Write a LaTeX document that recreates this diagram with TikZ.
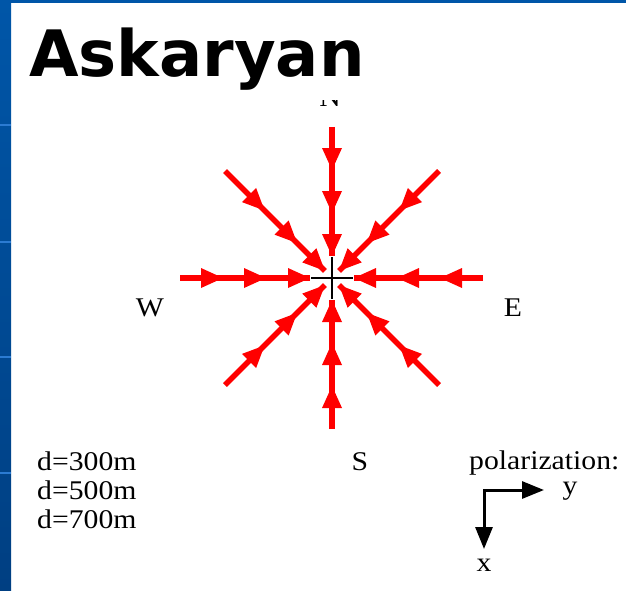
\documentclass[tikz,border=0pt]{standalone}
\usepackage{fontspec}
\setmainfont{Liberation Serif}
\newfontfamily\titlefont{DejaVu Sans}
\usetikzlibrary{arrows.meta,decorations.markings,calc}

\definecolor{slideblue}{HTML}{0056A8}
\definecolor{slidebluedark}{HTML}{003F82}
\definecolor{slidebluelight}{HTML}{2B7BD2}
\definecolor{arrowred}{HTML}{FF0000}

\begin{document}
\begin{tikzpicture}[x=1pt,y=-1pt,
  lbl/.style={font=\fontsize{27}{29}\selectfont, inner sep=0pt, xscale=1.1, anchor=base},
  lblw/.style={lbl, anchor=base west},
  redhead/.style={fill=arrowred, draw=none},
  orth/.style={draw=arrowred, line width=5.5pt, decoration={markings,
      mark=at position 43pt with {\fill[redhead] (0pt,0pt) -- (-22pt,10pt) -- (-22pt,-10pt) -- cycle;},
      mark=at position 86pt with {\fill[redhead] (0pt,0pt) -- (-22pt,10pt) -- (-22pt,-10pt) -- cycle;},
      mark=at position 1 with {\fill[redhead] (0pt,0pt) -- (-22pt,10pt) -- (-22pt,-10pt) -- cycle;}},
      postaction={decorate}},
  diag/.style={draw=arrowred, line width=5.5pt, decoration={markings,
      mark=at position 56pt with {\fill[redhead] (0pt,0pt) -- (-22pt,10pt) -- (-22pt,-10pt) -- cycle;},
      mark=at position 102pt with {\fill[redhead] (0pt,0pt) -- (-22pt,10pt) -- (-22pt,-10pt) -- cycle;},
      mark=at position 1 with {\fill[redhead] (0pt,0pt) -- (-22pt,10pt) -- (-22pt,-10pt) -- cycle;}},
      postaction={decorate}},
  crossline/.style={draw=black, line width=2.5pt},
  polarrow/.style={draw=black, line width=3pt, line join=miter,
      {Triangle[length=22pt,width=17pt]}-{Triangle[length=22pt,width=17pt]}}
]
\useasboundingbox (0,0) rectangle (626,591);
% slide background
\fill[white] (0,0) rectangle (626,591);
\shade[top color=slideblue, bottom color=slidebluedark] (0,0) rectangle (11,591);
\fill[slideblue] (0,0) rectangle (626,3);
\foreach \yy in {124,241,356,472} {\fill[slidebluelight] (0,\yy) rectangle (11,\yy+2);}

% title
\node[anchor=base west, inner sep=0pt, font=\titlefont\bfseries\fontsize{64}{70}\selectfont] (title) at (29,77) {Askaryan};

% star
\coordinate (O) at (332,278);
\coordinate (eN) at (332,127);
\coordinate (eS) at (332,429);
\coordinate (eW) at (180,278);
\coordinate (eE) at (483,278);
\coordinate (eNW) at (225,171);
\coordinate (eNE) at (439,171);
\coordinate (eSW) at (225,385);
\coordinate (eSE) at (439,385);

\coordinate (cl) at (311,278);
\coordinate (cr) at (353,278);
\coordinate (ct) at (332,257);
\coordinate (cb) at (332,299);
\draw[crossline] (cl) -- (cr);
\draw[crossline] (ct) -- (cb);

\foreach \e in {eN,eS,eW,eE} {\path[orth] (\e) -- ($(O)!22pt!(\e)$);}
\foreach \e in {eNW,eNE,eSW,eSE} {\path[diag] (\e) -- ($(O)!10pt!(\e)$);}

% compass labels
\begin{scope}
\clip (300,100.5) rectangle (360,115);
\node[lbl] (N) at (330,107) {N};
\end{scope}
\node[lbl] (W) at (150,316) {W};
\node[lbl] (E) at (513,316) {E};
\node[lbl] (S) at (360,470) {S};

% distances
\node[lblw] (d1) at (37,470) {d=300m};
\node[lblw] (d2) at (37,499) {d=500m};
\node[lblw] (d3) at (37,528) {d=700m};

% polarization
\node[lblw] (pol) at (469,469) {polarization:};
\coordinate (pc) at (484,490);
\coordinate (py) at (544,490);
\coordinate (px) at (484,549);
\draw[polarrow] (px) -- (pc) -- (py);
\node[lbl] (ylab) at (570,494) {y};
\node[lbl] (xlab) at (484,571) {x};
\end{tikzpicture}
\end{document}
